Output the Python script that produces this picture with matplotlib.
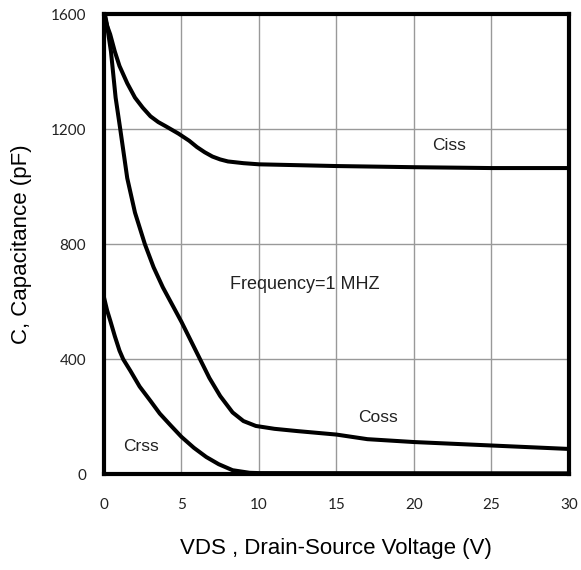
import matplotlib
matplotlib.use("Agg")
import matplotlib.pyplot as plt

ciss_x = [0, 0.2, 0.4, 0.7, 1, 1.5, 2, 2.5, 3, 3.5, 4, 4.8, 5.5, 6, 6.5, 7, 7.5, 8, 9, 10, 15, 20, 25, 30]
ciss_y = [1600, 1560, 1530, 1470, 1420, 1360, 1310, 1275, 1245, 1225, 1210, 1185, 1160, 1138, 1120, 1105, 1095, 1088, 1082, 1078, 1072, 1068, 1065, 1065]

coss_x = [0, 0.1, 0.2, 0.45, 0.75, 1.05, 1.5, 2, 2.64, 3.2, 3.8, 4.4, 5, 5.6, 6.2, 6.8, 7.5, 8.3, 9, 9.8, 11, 12.5, 15, 17, 20, 25, 30]
coss_y = [1600, 1590, 1560, 1470, 1310, 1200, 1030, 910, 800, 720, 650, 590, 530, 465, 400, 335, 272, 215, 185, 168, 158, 150, 138, 122, 112, 100, 88]

crss_x = [0, 0.2, 0.4, 0.7, 1.0, 1.24, 1.7, 2.3, 3, 3.6, 4.3, 5, 5.8, 6.6, 7.4, 8.3, 9.4, 10, 30]
crss_y = [615, 570, 535, 480, 430, 400, 360, 305, 255, 211, 170, 130, 92, 60, 35, 14, 5, 4, 3]

xticks = [0, 5, 10, 15, 20, 25, 30]
yticks = [0, 400, 800, 1200, 1600]

fig = plt.figure(figsize=(5.81, 5.70), dpi=100)
ax = fig.add_axes([0.179, 0.168, 0.800, 0.807])

for xs, ys in [(ciss_x, ciss_y), (coss_x, coss_y), (crss_x, crss_y)]:
    ax.plot(xs, ys, color="black", lw=2.9, solid_capstyle="butt", solid_joinstyle="round", zorder=3)

ax.set_xlim(0, 30)
ax.set_ylim(0, 1600)
ax.set_xticks(xticks)
ax.set_yticks(yticks)
ax.grid(True, color="#999999", lw=1)
ax.set_axisbelow(True)
for s in ax.spines.values():
    s.set_linewidth(3)
    s.set_color("black")
    s.set_zorder(4)
ax.tick_params(length=0, labelsize=11, labelcolor="#222222")
ax.tick_params(axis="x", pad=17)
ax.tick_params(axis="y", pad=13)
for lab in ax.get_xticklabels() + ax.get_yticklabels():
    lab.set_fontfamily("Lato")

ax.set_xlabel("VDS , Drain-Source Voltage (V)", fontsize=16, family="Liberation Sans", labelpad=19)
ax.set_ylabel("C, Capacitance (pF)", fontsize=16, family="Liberation Sans", labelpad=13)

ax.text(22.3, 1144, "Ciss", fontsize=12.5, family="Liberation Sans", ha="center", va="center", color="#222222")
ax.text(17.7, 198, "Coss", fontsize=12.5, family="Liberation Sans", ha="center", va="center", color="#222222")
ax.text(2.42, 95, "Crss", fontsize=12.5, family="Liberation Sans", ha="center", va="center", color="#222222")
ax.text(12.94, 661, "Frequency=1 MHZ", fontsize=13, family="Liberation Sans", ha="center", va="center", color="#222222")

fig.savefig("out.png", dpi=100)
